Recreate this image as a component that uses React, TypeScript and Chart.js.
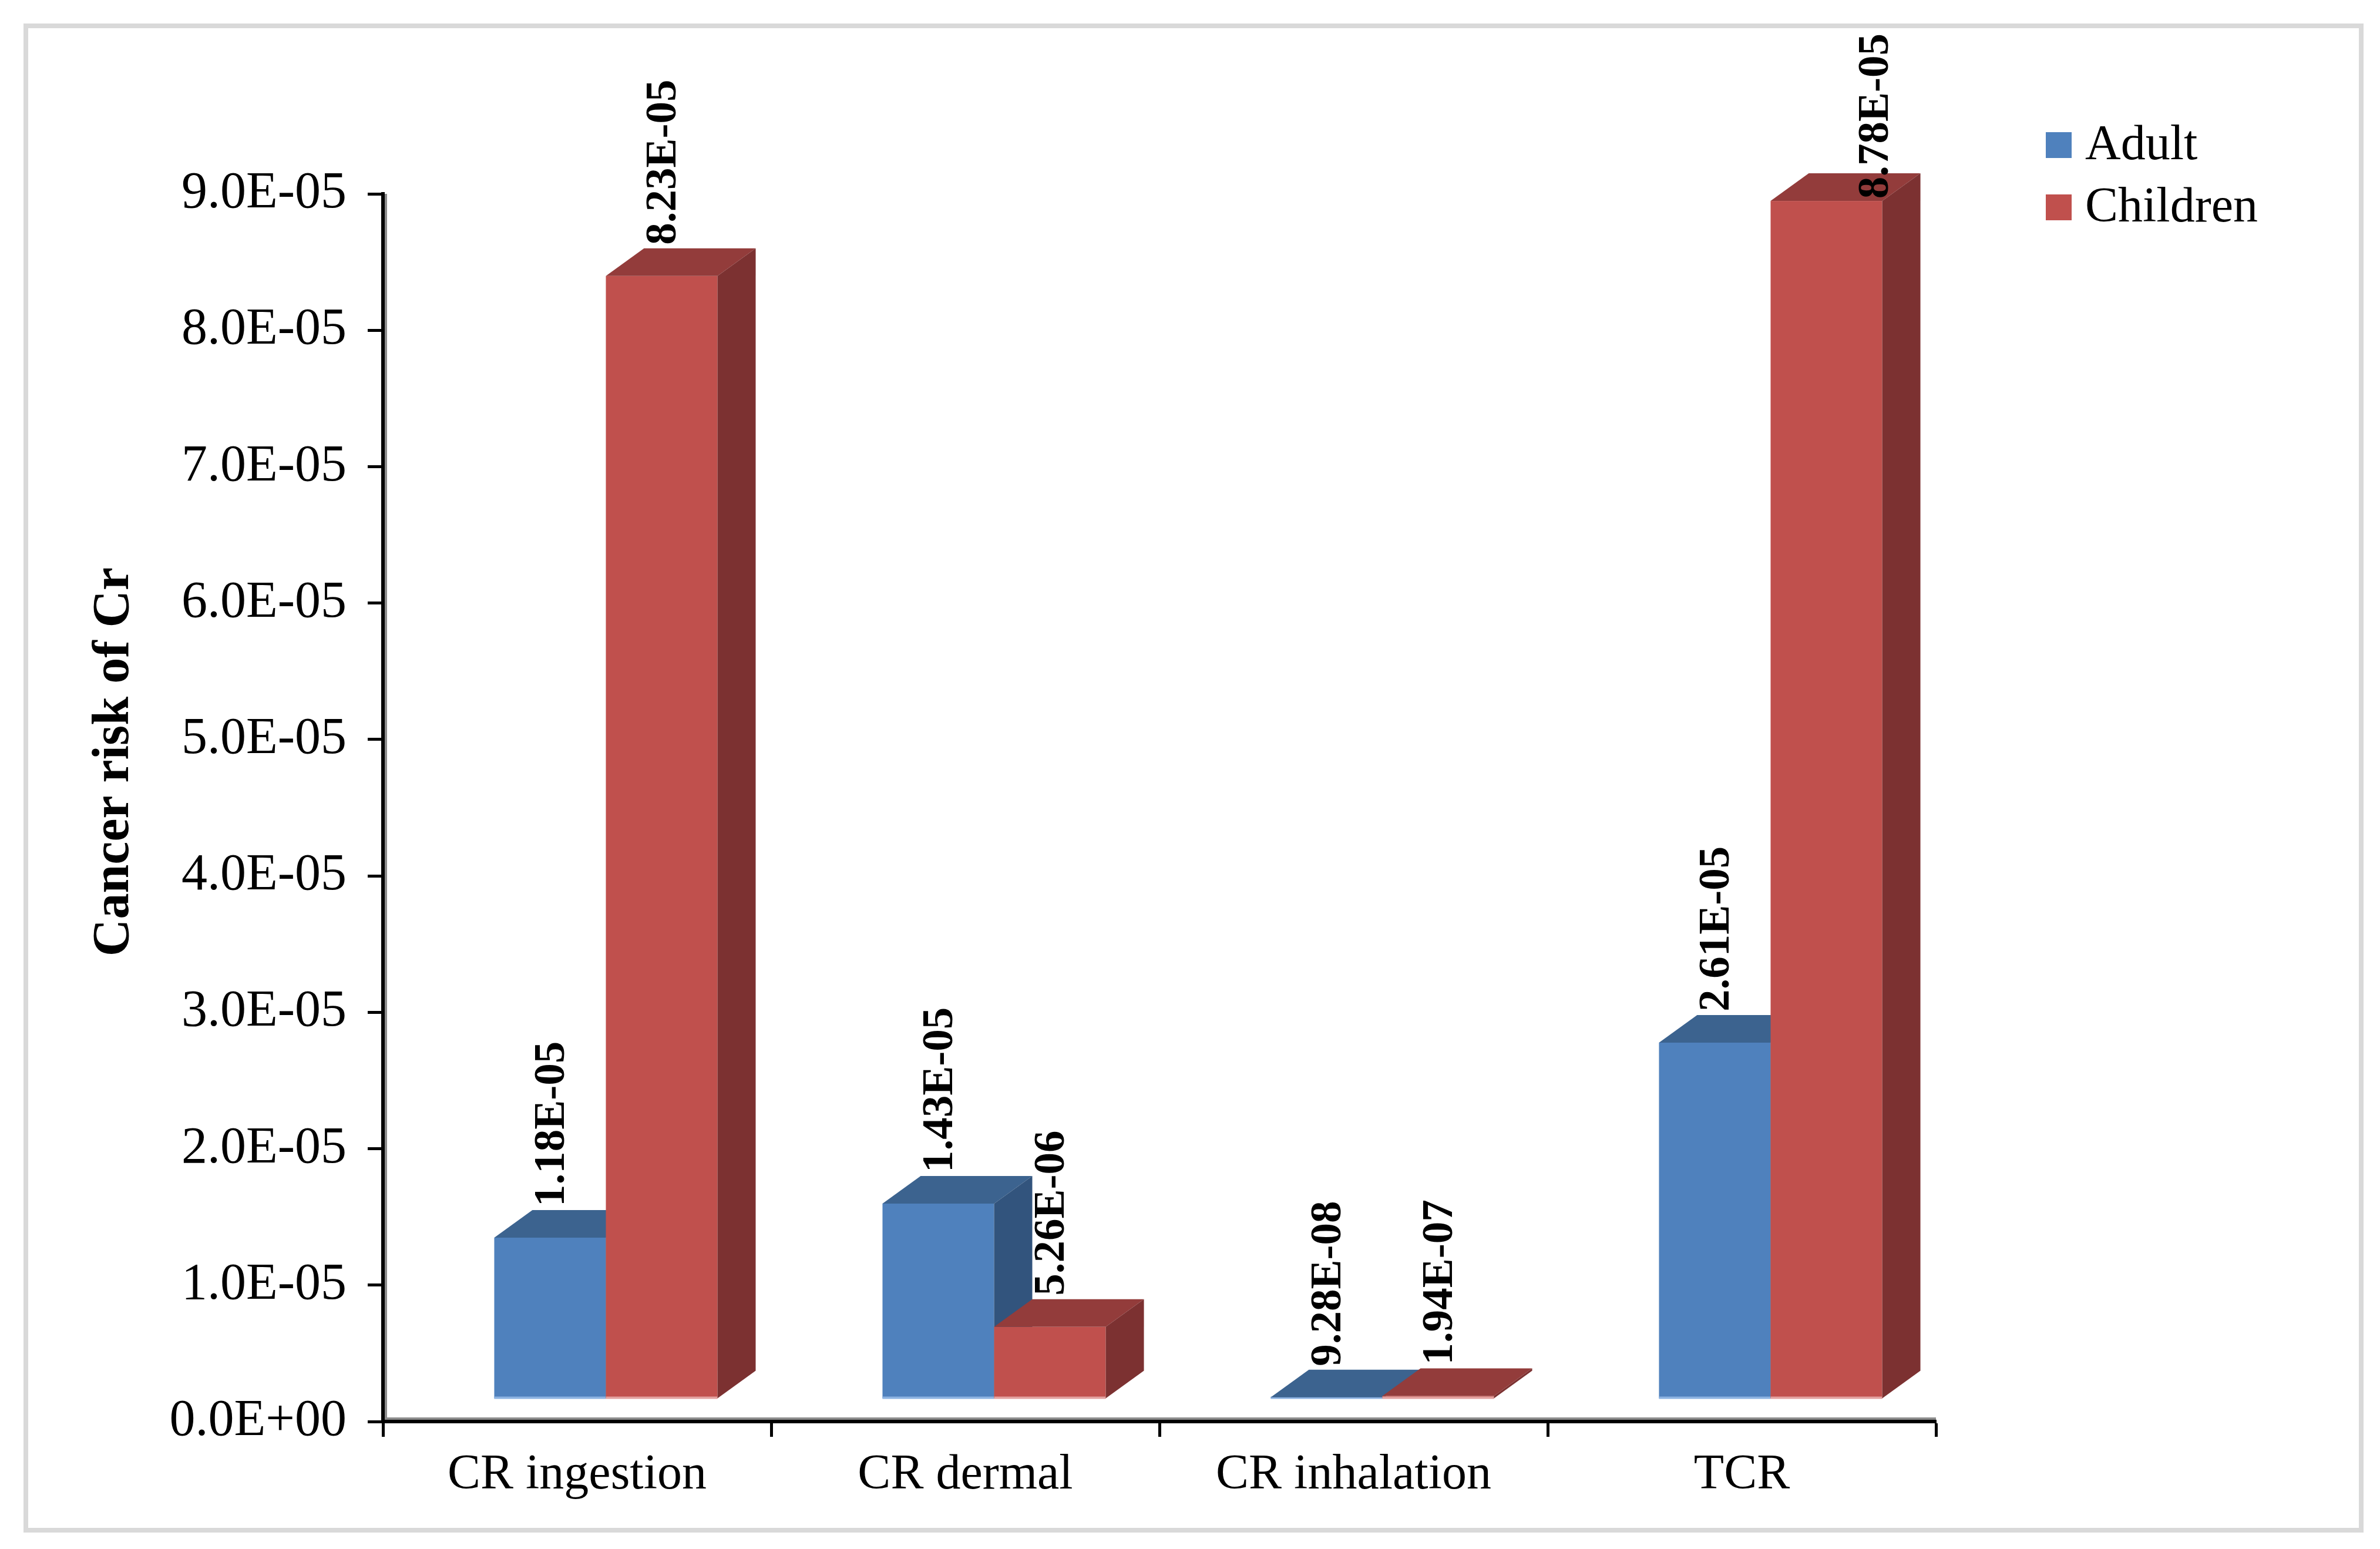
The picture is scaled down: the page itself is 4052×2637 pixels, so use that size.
import React, { useEffect, useRef } from "react";
import { Chart, registerables } from "chart.js";

Chart.register(...registerables);

// ---------- data ----------
const categories = ["CR ingestion", "CR dermal", "CR inhalation", "TCR"];
const seriesNames = ["Adult", "Children"];
const adultValues = [1.18e-5, 1.43e-5, 9.28e-8, 2.61e-5];
const childrenValues = [8.23e-5, 5.26e-6, 1.94e-7, 8.78e-5];
const adultLabels = ["1.18E-05", "1.43E-05", "9.28E-08", "2.61E-05"];
const childrenLabels = ["8.23E-05", "5.26E-06", "1.94E-07", "8.78E-05"];
const yMax = 9e-5;
const yStep = 1e-5;
const yTickLabels = [
  "0.0E+00",
  "1.0E-05",
  "2.0E-05",
  "3.0E-05",
  "4.0E-05",
  "5.0E-05",
  "6.0E-05",
  "7.0E-05",
  "8.0E-05",
  "9.0E-05",
];
const yTitle = "Cancer risk of Cr";

// ---------- layout / style ----------
const W = 4052;
const H = 2637;
const AREA = { left: 652, right: 3296, top: 330, bottom: 2420 };
const FONT = '"Liberation Serif", "Times New Roman", serif';
const COLORS = [
  { front: "#4f81bd", top: "#3c638f", side: "#32547d", edge: "#8db3e2" },
  { front: "#c0504d", top: "#933c3b", side: "#7c3131", edge: "#e3a2a0" },
];
const DEPTH_DX = 65;
const DEPTH_DY = 47;
const PAIR_SHIFT = 49;
const FLOOR_LIFT = 39;
const LABEL_MIN_TOP = 57;

const valueLabels = [adultLabels, childrenLabels];

const threeDPlugin = {
  id: "threeD",
  beforeDatasetsDraw(chart: any) {
    const ctx = chart.ctx as CanvasRenderingContext2D;
    ctx.save();
    for (let j = 0; j < categories.length; j++) {
      for (let i = 0; i < chart.data.datasets.length; i++) {
        const el = chart.getDatasetMeta(i).data[j];
        const p = el.getProps(["x", "y", "base", "width"], true);
        const l = p.x - p.width / 2 + PAIR_SHIFT;
        const r = p.x + p.width / 2 + PAIR_SHIFT;
        const b = p.base - FLOOR_LIFT;
        const t = p.y - FLOOR_LIFT;
        const c = COLORS[i];
        // front face
        ctx.fillStyle = c.front;
        ctx.fillRect(l, t, r - l, b - t);
        ctx.fillStyle = c.edge;
        ctx.fillRect(l, b - 3, r - l, 4);
        // top face
        ctx.fillStyle = c.top;
        ctx.beginPath();
        ctx.moveTo(l, t);
        ctx.lineTo(l + DEPTH_DX, t - DEPTH_DY);
        ctx.lineTo(r + DEPTH_DX, t - DEPTH_DY);
        ctx.lineTo(r, t);
        ctx.closePath();
        ctx.fill();
        // side face
        ctx.fillStyle = c.side;
        ctx.beginPath();
        ctx.moveTo(r, t);
        ctx.lineTo(r + DEPTH_DX, t - DEPTH_DY);
        ctx.lineTo(r + DEPTH_DX, b - DEPTH_DY);
        ctx.lineTo(r, b);
        ctx.closePath();
        ctx.fill();
      }
    }
    ctx.restore();
    return false;
  },
  afterDraw(chart: any) {
    const ctx = chart.ctx as CanvasRenderingContext2D;
    const area = chart.chartArea;
    ctx.save();

    // subtle grey wall edges next to the axes
    ctx.fillStyle = "#8c8c8c";
    ctx.fillRect(area.left + 3, area.top, 4, area.bottom - area.top - 3);
    ctx.fillRect(area.left + 3, area.bottom - 7, area.right - area.left - 3, 4);

    // value labels
    ctx.font = `bold 75px ${FONT}`;
    ctx.fillStyle = "#000";
    ctx.textAlign = "left";
    ctx.textBaseline = "middle";
    for (let i = 0; i < chart.data.datasets.length; i++) {
      const meta = chart.getDatasetMeta(i);
      meta.data.forEach((el: any, j: number) => {
        const p = el.getProps(["x", "y", "width"], true);
        const text = valueLabels[i][j];
        const tw = ctx.measureText(text).width;
        let ax = p.x + PAIR_SHIFT + 4;
        let ay = p.y - FLOOR_LIFT - DEPTH_DY - 6;
        if (ay - tw < LABEL_MIN_TOP) {
          ay = LABEL_MIN_TOP + tw;
          ax += DEPTH_DX * 1.25;
        }
        ctx.save();
        ctx.translate(ax, ay);
        ctx.rotate(-Math.PI / 2);
        ctx.fillText(text, 0, 0);
        ctx.restore();
      });
    }

    // y axis title
    ctx.save();
    ctx.translate(195, 1297);
    ctx.rotate(-Math.PI / 2);
    ctx.font = `bold 88px ${FONT}`;
    ctx.textAlign = "center";
    ctx.textBaseline = "middle";
    ctx.fillText(yTitle, 0, 0);
    ctx.restore();

    // legend
    ctx.font = `84px ${FONT}`;
    ctx.textAlign = "left";
    ctx.textBaseline = "middle";
    seriesNames.forEach((name, i) => {
      const cy = 247 + i * 106;
      ctx.fillStyle = COLORS[i].front;
      ctx.fillRect(3483, cy - 22, 44, 44);
      ctx.fillStyle = "#000";
      ctx.fillText(name, 3550, cy + 2);
    });

    // outer border
    ctx.strokeStyle = "#d9d9d9";
    ctx.lineWidth = 8;
    ctx.strokeRect(44, 44, 3976, 2561);

    ctx.restore();
  },
};

export default function App() {
  const canvasRef = useRef<HTMLCanvasElement | null>(null);

  useEffect(() => {
    const canvas = canvasRef.current;
    if (!canvas) return;
    const chart = new Chart(canvas, {
      type: "bar",
      data: {
        labels: categories,
        datasets: [
          { label: seriesNames[0], data: adultValues, backgroundColor: COLORS[0].front },
          { label: seriesNames[1], data: childrenValues, backgroundColor: COLORS[1].front },
        ],
      },
      options: {
        responsive: false,
        animation: false,
        devicePixelRatio: 1,
        layout: {
          padding: { left: 0, top: AREA.top, right: W - AREA.right, bottom: 0 },
        },
        datasets: {
          bar: { categoryPercentage: 0.575, barPercentage: 1 },
        },
        plugins: {
          legend: { display: false },
          tooltip: { enabled: false },
          title: { display: false },
        },
        scales: {
          x: {
            grid: {
              display: true,
              drawOnChartArea: false,
              drawTicks: true,
              tickLength: 26,
              tickWidth: 5,
              tickColor: "#000",
              offset: true,
            },
            border: { display: true, color: "#000", width: 6 },
            ticks: {
              font: { family: FONT, size: 84 },
              color: "#000",
              padding: 16,
              maxRotation: 0,
              autoSkip: false,
            },
            afterFit: (s: any) => {
              s.height = H - AREA.bottom;
            },
          },
          y: {
            min: 0,
            max: yMax,
            grid: {
              drawOnChartArea: false,
              drawTicks: true,
              tickLength: 26,
              tickWidth: 5,
              tickColor: "#000",
            },
            border: { display: true, color: "#000", width: 6 },
            ticks: {
              stepSize: yStep,
              font: { family: FONT, size: 88 },
              color: "#000",
              padding: 36,
              callback: (_v: any, i: number) => yTickLabels[i] ?? "",
            },
            afterFit: (s: any) => {
              s.width = AREA.left;
            },
          },
        },
      } as any,
      plugins: [threeDPlugin],
    });
    return () => chart.destroy();
  }, []);

  return (
    <div
      style={{
        position: "absolute",
        left: 0,
        top: 0,
        width: W,
        height: H,
        background: "#fff",
      }}
    >
      <canvas ref={canvasRef} width={W} height={H} style={{ width: W, height: H, display: "block" }} />
    </div>
  );
}
